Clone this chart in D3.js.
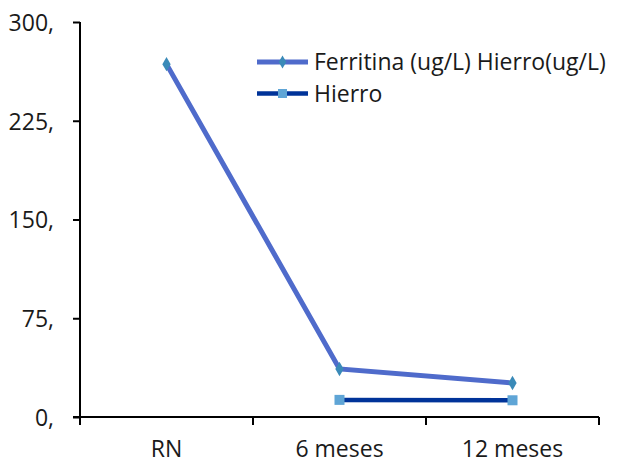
<!DOCTYPE html>
<html>
<head>
<meta charset="utf-8">
<script src="https://cdn.jsdelivr.net/npm/d3@7"></script>
<style>
  html, body { margin: 0; padding: 0; background: #ffffff; }
  svg { display: block; }
  text { font-family: "Open Sans", Lato, sans-serif; fill: #1a1a1a; }
</style>
</head>
<body>
<svg id="chart" width="618" height="463"></svg>
<script>
// Categories on the x axis
const categories = ["RN", "6 meses", "12 meses"];
// Series values (null = no measurement)
const ferritina = [268, 36.5, 25.8];
const hierro = [null, 13, 12.7];
// Y axis ticks and their labels
const yTicks = [0, 75, 150, 225, 300];
const yTickLabels = ["0,", "75,", "150,", "225,", "300,"];
// Legend entries
const legendLabels = ["Ferritina (ug/L) Hierro(ug/L)", "Hierro"];

const FONT = "'Open Sans', Lato, sans-serif";
const FS = 23;
const svg = d3.select("#chart");
const margin = { left: 80, right: 19, top: 22, bottom: 46 };
const W = 618, H = 463;

const x = d3.scaleBand().domain(categories).range([margin.left, W - margin.right]);
const y = d3.scaleLinear().domain([0, 300]).range([H - margin.bottom, margin.top]);

// Y axis
const yAxis = d3.axisLeft(y).tickValues(yTicks)
  .tickFormat((d, i) => yTickLabels[i]).tickSize(7).tickPadding(19);
const gy = svg.append("g").attr("transform", `translate(${margin.left},0)`).call(yAxis);
gy.select(".domain").attr("stroke", "#000").attr("stroke-width", 2)
  .attr("d", `M0,${margin.top}V${H - margin.bottom + 8}`);
gy.selectAll(".tick line").attr("stroke", "#000").attr("stroke-width", 2);
gy.selectAll(".tick text").attr("font-size", FS).attr("font-family", FONT)
  .attr("fill", "#1a1a1a").attr("dy", "0.36em");

// X axis with ticks between categories
const xAxis = d3.axisBottom(x).tickSize(0).tickPadding(24);
const gx = svg.append("g").attr("transform", `translate(0,${y(0)})`).call(xAxis);
gx.select(".domain").attr("stroke", "#000").attr("stroke-width", 2)
  .attr("d", `M${margin.left - 7},0H${W - margin.right}`);
gx.selectAll(".tick text").attr("font-size", FS).attr("font-family", FONT)
  .attr("fill", "#1a1a1a");
const bounds = categories.map(c => x(c)).concat([x(categories[categories.length - 1]) + x.bandwidth()]);
gx.selectAll("line.sep").data(bounds).enter().append("line")
  .attr("x1", d => d).attr("x2", d => d).attr("y1", 0).attr("y2", 8)
  .attr("stroke", "#000").attr("stroke-width", 2);

const cx = c => x(c) + x.bandwidth() / 2;
const line = d3.line().defined(d => d.v != null).x(d => cx(d.c)).y(d => y(d.v));

// Ferritina series
const fData = categories.map((c, i) => ({ c, v: ferritina[i] }));
svg.append("path").datum(fData).attr("d", line)
  .attr("fill", "none").attr("stroke", "#4f6bcb").attr("stroke-width", 5);
svg.selectAll("path.fm").data(fData.filter(d => d.v != null)).enter().append("path")
  .attr("d", d3.symbol(d3.symbolDiamond, 60))
  .attr("transform", d => `translate(${cx(d.c)},${y(d.v)})`)
  .attr("fill", "#3a8ab8");

// Hierro series
const hData = categories.map((c, i) => ({ c, v: hierro[i] }));
svg.append("path").datum(hData).attr("d", line)
  .attr("fill", "none").attr("stroke", "#003399").attr("stroke-width", 4.5);
svg.selectAll("rect.hm").data(hData.filter(d => d.v != null)).enter().append("rect")
  .attr("x", d => cx(d.c) - 5).attr("y", d => y(d.v) - 5)
  .attr("width", 10).attr("height", 10).attr("fill", "#5fa5d6");

// Legend
const legend = svg.append("g").attr("transform", "translate(257,62)");
const lg = [
  { stroke: "#4f6bcb", w: 5, marker: "diamond", mfill: "#3a8ab8" },
  { stroke: "#003399", w: 4.5, marker: "square", mfill: "#5fa5d6" }
];
lg.forEach((s, i) => {
  const g = legend.append("g").attr("transform", `translate(0,${i * 31.5})`);
  g.append("line").attr("x1", 0).attr("x2", 51).attr("y1", 0).attr("y2", 0)
    .attr("stroke", s.stroke).attr("stroke-width", s.w);
  if (s.marker === "diamond") {
    g.append("path").attr("d", d3.symbol(d3.symbolDiamond, 50))
      .attr("transform", "translate(25.5,0)").attr("fill", s.mfill);
  } else {
    g.append("rect").attr("x", 21).attr("y", -4.5).attr("width", 9).attr("height", 9)
      .attr("fill", s.mfill);
  }
  g.append("text").attr("x", 57).attr("y", 0).attr("dy", "0.36em")
    .attr("font-size", FS).attr("font-family", FONT).text(legendLabels[i]);
});
</script>
</body>
</html>
